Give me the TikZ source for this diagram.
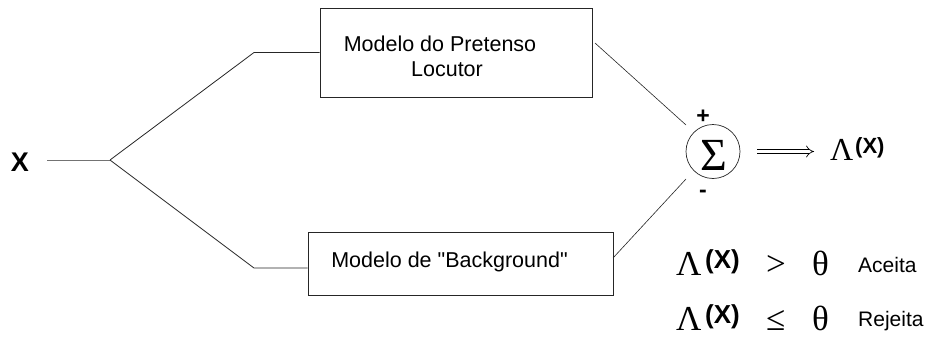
\documentclass[tikz,border=0pt]{standalone}
\usepackage{fontspec}
\setmainfont{Liberation Sans}
\newfontfamily\symf{Liberation Serif}
\newfontfamily\plainf{Liberation Sans}
\usetikzlibrary{arrows.meta}
\tikzset{
  box/.style={draw=black!85, line width=0.8pt, inner sep=0pt},
  wire/.style={draw=black!85, line width=0.8pt},
  thinwire/.style={draw=black!85, line width=0.6pt},
  lbl/.style={inner sep=0pt, font=\fontsize{21.5}{25}\selectfont},
  sym/.style={inner sep=0pt, anchor=base west, font=\symf\fontsize{35}{35}\selectfont},
  sup/.style={inner sep=0pt, anchor=base west, font=\bfseries\fontsize{21}{21}\selectfont},
  small/.style={inner sep=0pt, anchor=base west, font=\fontsize{21}{21}\selectfont},
}
\begin{document}
\begin{tikzpicture}[x=1pt, y=-1pt]
\useasboundingbox (0,0) rectangle (929,343);
% input
\node[inner sep=0pt, font=\bfseries\fontsize{27}{27}\selectfont] (x) at (20,162) {X};
\coordinate (xs) at (47,160);
\coordinate (split) at (110,160);
\coordinate (u1) at (254,52.5);
\coordinate (l1) at (254,268);
% boxes
\node[box, minimum width=272pt, minimum height=89pt] (mp) at (456,52.5) {};
\node[lbl, align=center] (mpt) at (440,56) {Modelo do Pretenso\\Locutor\hspace*{-14pt}};
\node[box, minimum width=305pt, minimum height=63pt] (mb) at (460.5,263.5) {};
\node[lbl, font=\plainf\fontsize{21.5}{25}\selectfont] (mbt) at (449.5,262) {Modelo de "Background"};
% sum
\node[draw=black!85, line width=0.7pt, circle, minimum size=54pt, inner sep=0pt] (sum) at (713,151.5) {};
\node[inner sep=0pt, font=\symf\fontsize{46}{46}\selectfont] (sigma) at (714,155) {Σ};
\node[inner sep=0pt, font=\bfseries\fontsize{23}{23}\selectfont] (plus) at (703,117) {+};
\node[inner sep=0pt, font=\bfseries\fontsize{23}{23}\selectfont] (minus) at (703,194) {-};
% connectors
\draw[thinwire, draw=black!55] (xs) -- (split);
\draw[wire] (split) -- (u1) -- (u1 -| mp.west);
\draw[wire] (split) -- (l1) -- (l1 -| mb.west);
\coordinate (ua) at (595,43);
\coordinate (ub) at (686,125);
\coordinate (la) at (613,258);
\coordinate (lb) at (686,179);
\draw[thinwire] (ua) -- (ub);
\draw[thinwire] (la) -- (lb);
% output
\node[sym, font=\symf\fontsize{32}{32}\selectfont] (lam) at (830,160) {Λ};
\node[sup, font=\bfseries\fontsize{22}{22}\selectfont] (lamx) at (855,153) {(X)};
\draw[line width=0.7pt, double, double distance=3.5pt, -{Implies[length=7pt]}, shorten <=17pt, shorten >=16pt] (sum.east) -- (lam.west |- sum.east);
% decision rules
\node[sym] (l1a) at (676,275) {Λ};
\node[sup, font=\bfseries\fontsize{26}{26}\selectfont] (l1x) at (705,268) {(X)};
\node[sym] (gt) at (766,275) {>};
\node[sym] (th1) at (812,275) {θ};
\node[small] (acc) at (858,272) {Aceita};
\node[sym] (l2a) at (676,330) {Λ};
\node[sup, font=\bfseries\fontsize{26}{26}\selectfont] (l2x) at (705,323) {(X)};
\node[sym] (le) at (766,330) {≤};
\node[sym] (th2) at (812,330) {θ};
\node[small] (rej) at (858,326) {Rejeita};
\end{tikzpicture}
\end{document}
